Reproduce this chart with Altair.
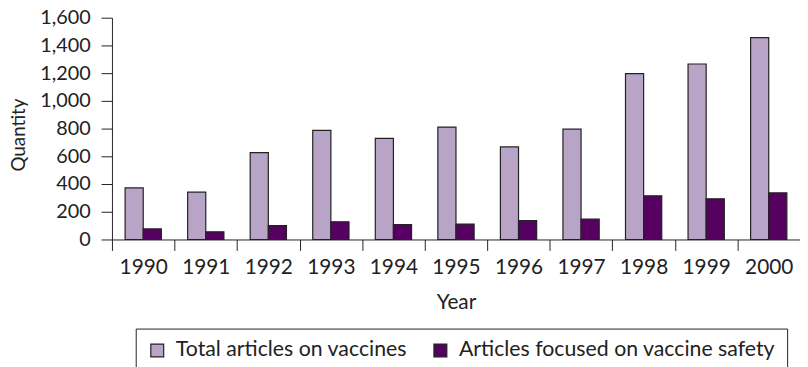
import altair as alt
import pandas as pd

years = ["1990", "1991", "1992", "1993", "1994", "1995", "1996", "1997", "1998", "1999", "2000"]
total_articles = [372, 341, 626, 787, 730, 811, 668, 796, 1197, 1266, 1456]
safety_articles = [76, 55, 100, 128, 107, 111, 137, 147, 315, 294, 336]
series_names = ["Total articles on vaccines", "Articles focused on vaccine safety"]
series_colors = ["#b8a4c6", "#560062"]
y_ticks = [0, 200, 400, 600, 800, 1000, 1200, 1400, 1600]

rows = []
for i, yr in enumerate(years):
    rows.append({"Year": yr, "Series": series_names[0], "Quantity": total_articles[i]})
    rows.append({"Year": yr, "Series": series_names[1], "Quantity": safety_articles[i]})
df = pd.DataFrame(rows)

FONT = "Lato"

chart = alt.Chart(df).mark_bar(stroke="#222222", strokeWidth=1.2).encode(
    x=alt.X(
        "Year:N",
        sort=years,
        scale=alt.Scale(paddingInner=0, paddingOuter=0),
        axis=alt.Axis(
            title="Year",
            labelAngle=0,
            tickBand="extent",
            tickSize=11,
            tickColor="#222222",
            domainColor="#222222",
            labelPadding=6,
            labelFontSize=21,
            labelColor="#222222",
            labelFont=FONT,
            titleFont=FONT,
            titleFontSize=21,
            titleFontWeight="normal",
            titleColor="#222222",
            titleBaseline="alphabetic",
            titleY=70,
        ),
    ),
    xOffset=alt.XOffset(
        "Series:N",
        sort=series_names,
        scale=alt.Scale(paddingInner=0, paddingOuter=0.725),
    ),
    y=alt.Y(
        "Quantity:Q",
        scale=alt.Scale(domain=[0, 1600], nice=False),
        axis=alt.Axis(
            title="Quantity",
            values=y_ticks,
            format=",d",
            grid=False,
            tickSize=11,
            tickColor="#222222",
            domainColor="#222222",
            labelPadding=11,
            labelFontSize=20,
            labelColor="#222222",
            labelFont=FONT,
            titleFont=FONT,
            titleFontSize=19,
            titleFontWeight="normal",
            titleColor="#222222",
            titleX=-88,
            titleY=118,
            titleAlign="center",
            titleBaseline="alphabetic",
        ),
    ),
    fill=alt.Fill(
        "Series:N",
        sort=series_names,
        scale=alt.Scale(domain=series_names, range=series_colors),
        legend=alt.Legend(
            title=None,
            orient="none",
            legendX=24,
            legendY=314,
            direction="horizontal",
            columns=2,
            columnPadding=22,
            strokeColor="#222222",
            fillColor="white",
            padding=11,
            symbolType="square",
            symbolSize=169,
            symbolStrokeColor="#222222",
            symbolStrokeWidth=1.2,
            labelFont=FONT,
            labelFontSize=21.5,
            labelColor="#222222",
            labelOffset=8,
            labelLimit=500,
        ),
    ),
).properties(
    width=695,
    height=224,
    autosize=alt.AutoSizeParams(type="none"),
    padding={"left": 105, "top": 8, "right": 0, "bottom": 127},
).configure_view(stroke=None)

chart.save("out.html", embed_options={"renderer": "svg", "actions": False})
